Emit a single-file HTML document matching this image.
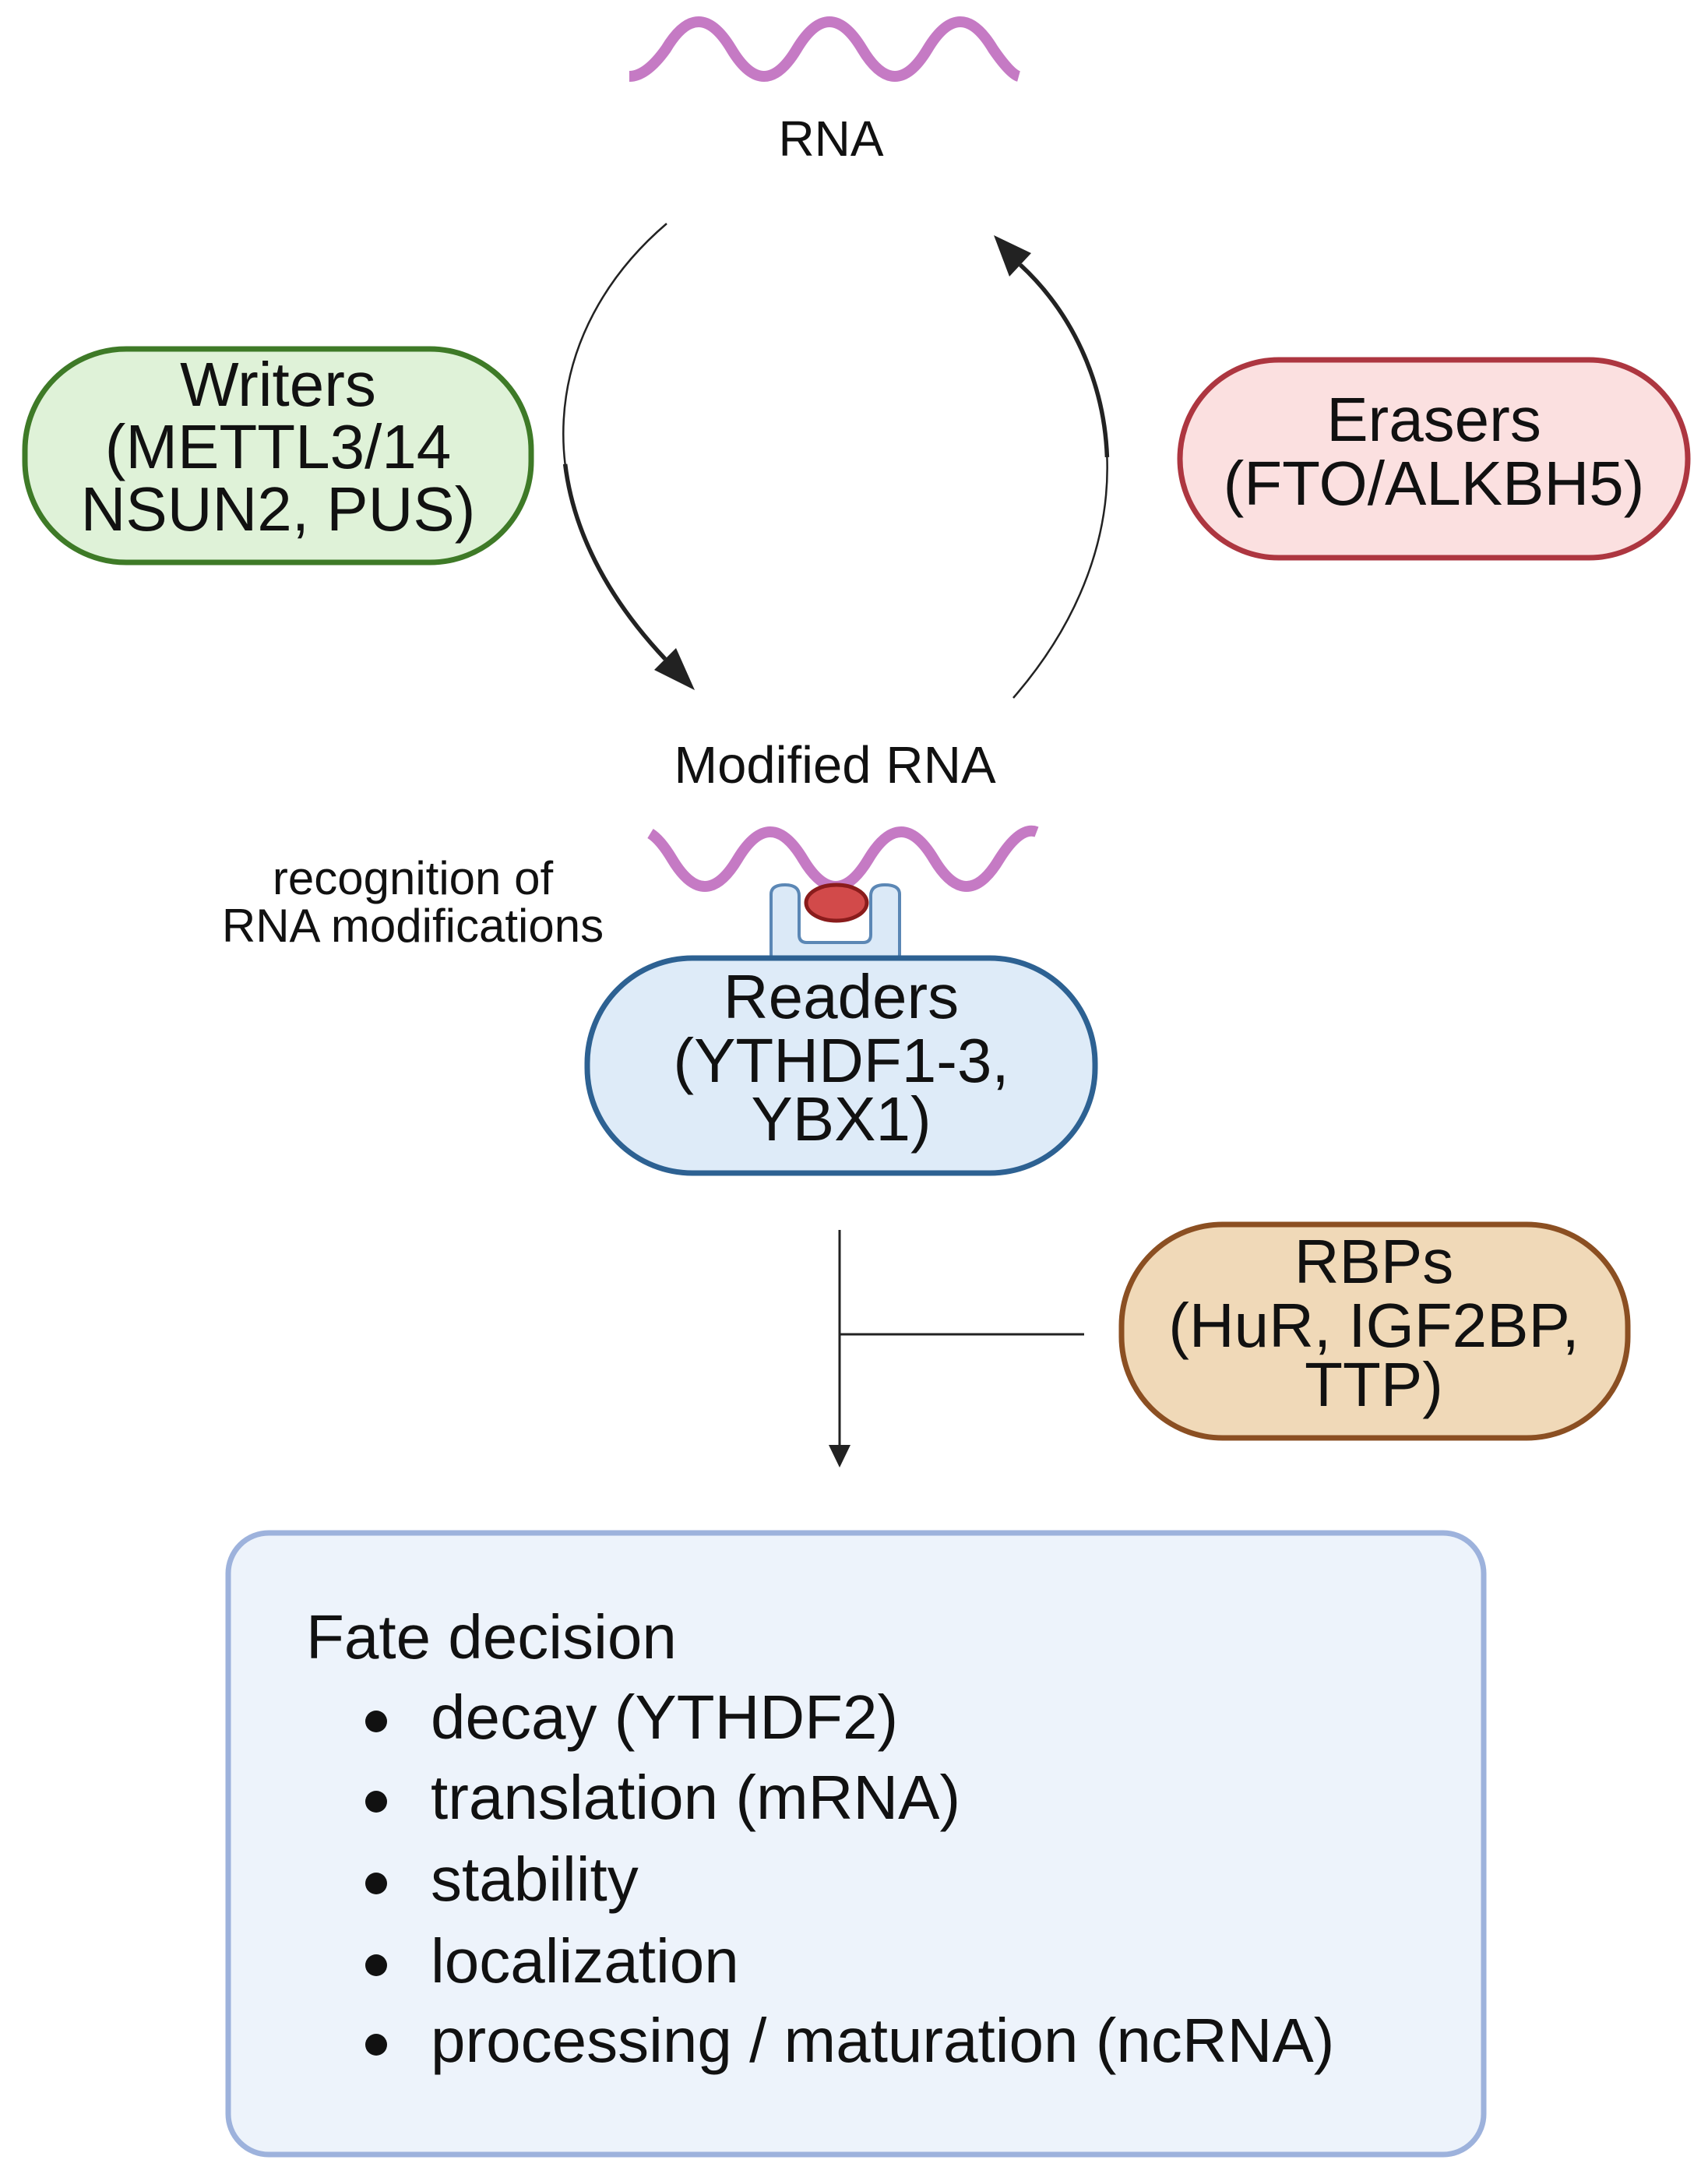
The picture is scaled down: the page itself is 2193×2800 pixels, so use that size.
<!DOCTYPE html>
<html><head><meta charset="utf-8"><style>
html,body{margin:0;padding:0;background:#fff;}
svg{display:block;}
text{font-family:"Liberation Sans",Arial,sans-serif;fill:#111;}
</style></head><body>
<svg width="2193" height="2800" viewBox="0 0 2193 2800" xmlns="http://www.w3.org/2000/svg">
<!-- RNA wave -->
<path d="M808,98 Q830,98 855,63 Q897,-7 939,63 Q981,133 1023,63 Q1065,-7 1107,63 Q1149,133 1191,63 Q1233,-7 1275,63 Q1297,95 1308,98" fill="none" stroke="#c57ac4" stroke-width="14"/>
<text x="1067" y="200" font-size="64" text-anchor="middle">RNA</text>

<!-- left curved arrow -->
<path d="M856,287 C700,420 660,640 854,846" fill="none" stroke="#222" stroke-width="2.5"/>
<path d="M856,287 C700,420 660,640 854,846" pathLength="100" stroke-dasharray="0 55 45" fill="none" stroke="#222" stroke-width="5.5"/>
<polygon points="892,886 840,860 868,832" fill="#222"/>
<!-- right curved arrow -->
<path d="M1301,896 C1480,690 1440,460 1310,340" fill="none" stroke="#222" stroke-width="2.5"/>
<path d="M1301,896 C1480,690 1440,460 1310,340" pathLength="100" stroke-dasharray="0 55 45" fill="none" stroke="#222" stroke-width="5.5"/>
<polygon points="1276,302 1324,325 1296,355" fill="#222"/>

<!-- Writers -->
<rect x="32" y="448" width="650" height="274" rx="130" fill="#dff2d8" stroke="#3e7a27" stroke-width="7"/>
<text x="357" y="521" font-size="80" text-anchor="middle">Writers</text>
<text x="357" y="601" font-size="80" text-anchor="middle">(METTL3/14</text>
<text x="357" y="681" font-size="80" text-anchor="middle">NSUN2, PUS)</text>

<!-- Erasers -->
<rect x="1515" y="462" width="652" height="254" rx="127" fill="#fbe0e0" stroke="#ad3640" stroke-width="7"/>
<text x="1841" y="566" font-size="80" text-anchor="middle">Erasers</text>
<text x="1841" y="648" font-size="80" text-anchor="middle">(FTO/ALKBH5)</text>

<text x="1072" y="1005" font-size="67" text-anchor="middle">Modified RNA</text>

<!-- modified wave -->
<path d="M835,1070 Q848,1078 863,1103 Q905,1173 947,1103 Q989,1033 1031,1103 Q1073,1173 1115,1103 Q1157,1033 1199,1103 Q1241,1173 1283,1103 Q1310,1060 1331,1068" fill="none" stroke="#c57ac4" stroke-width="14"/>

<text x="530" y="1148" font-size="60" text-anchor="middle">recognition of</text>
<text x="530" y="1209" font-size="60" text-anchor="middle">RNA modifications</text>

<!-- holder -->
<path d="M990,1148 Q990,1136 1008,1136 Q1026,1136 1026,1150 L1026,1200 Q1026,1210 1036,1210 L1108,1210 Q1118,1210 1118,1200 L1118,1150 Q1118,1136 1136,1136 Q1155,1136 1155,1148 L1155,1225 Q1155,1240 1140,1240 L1005,1240 Q990,1240 990,1225 Z" fill="#dbe9f7" stroke="#5b87b5" stroke-width="4"/>
<ellipse cx="1074" cy="1159" rx="39" ry="23" fill="#d24a4a" stroke="#8a1c1c" stroke-width="5"/>

<!-- Readers -->
<rect x="754" y="1230" width="652" height="276" rx="135" fill="#deebf8" stroke="#2d6192" stroke-width="7"/>
<text x="1080" y="1307" font-size="80" text-anchor="middle">Readers</text>
<text x="1080" y="1389" font-size="80" text-anchor="middle">(YTHDF1-3,</text>
<text x="1080" y="1464" font-size="80" text-anchor="middle">YBX1)</text>

<!-- vertical arrow -->
<line x1="1078" y1="1579" x2="1078" y2="1860" stroke="#222" stroke-width="3"/>
<polygon points="1078,1884 1064,1855 1092,1855" fill="#222"/>
<line x1="1078" y1="1713" x2="1392" y2="1713" stroke="#222" stroke-width="3"/>

<!-- RBPs -->
<rect x="1440" y="1572" width="650" height="274" rx="130" fill="#f0d9b8" stroke="#8b4f22" stroke-width="7"/>
<text x="1764" y="1647" font-size="80" text-anchor="middle">RBPs</text>
<text x="1764" y="1729" font-size="80" text-anchor="middle">(HuR, IGF2BP,</text>
<text x="1764" y="1805" font-size="80" text-anchor="middle">TTP)</text>

<!-- Fate box -->
<rect x="293" y="1968" width="1612" height="798" rx="52" fill="#edf3fb" stroke="#9db2dc" stroke-width="7"/>
<text x="393" y="2129" font-size="80">Fate decision</text>
<g font-size="80">
<circle cx="483" cy="2210" r="14" fill="#111"/><text x="553" y="2232">decay (YTHDF2)</text>
<circle cx="483" cy="2313" r="14" fill="#111"/><text x="553" y="2335">translation (mRNA)</text>
<circle cx="483" cy="2418" r="14" fill="#111"/><text x="553" y="2440">stability</text>
<circle cx="483" cy="2523" r="14" fill="#111"/><text x="553" y="2545">localization</text>
<circle cx="483" cy="2625" r="14" fill="#111"/><text x="553" y="2647">processing / maturation (ncRNA)</text>
</g>
</svg>
</body></html>
